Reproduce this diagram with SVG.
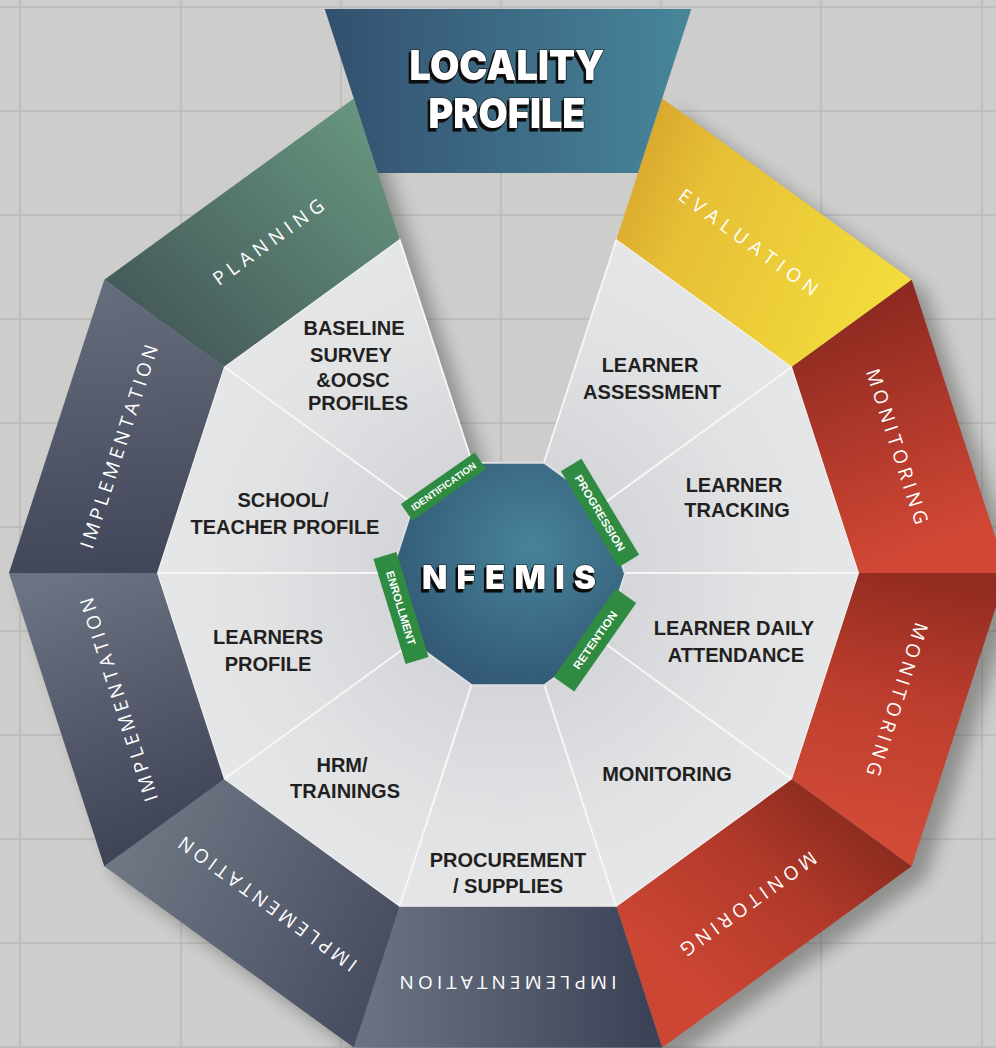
<svg xmlns="http://www.w3.org/2000/svg" width="996" height="1048" viewBox="0 0 996 1048">
<defs>
<style>
.grid line{stroke:#b9b9b8;stroke-width:1.5}
.wedge{stroke:#f7f7f7;stroke-width:1.8;stroke-linejoin:round}
.band{font-family:"Open Sans","Liberation Sans",sans-serif;font-size:19px;fill:#fff;text-anchor:middle}
.wl{font-family:"Liberation Sans",Arial,sans-serif;font-weight:700;font-size:20px;fill:#231f20;text-anchor:middle}
.tag rect{fill:#2f8b42}
.tag text{font-family:"Liberation Sans",Arial,sans-serif;font-weight:700;fill:#fff;text-anchor:middle}
.big{font-family:Inter,"Liberation Sans",sans-serif;font-weight:900;text-anchor:middle;fill:#fff;stroke:#111;stroke-width:1.2;paint-order:stroke;filter:url(#ts)}
</style>
<filter id="ts" x="-10%" y="-20%" width="120%" height="150%"><feDropShadow dx="-2" dy="3" stdDeviation="0" flood-color="#111" flood-opacity="1"/></filter>
<radialGradient id="gw" gradientUnits="userSpaceOnUse" cx="508" cy="573" r="360">
<stop offset="0.3" stop-color="#d4d5d8"/><stop offset="0.7" stop-color="#e1e2e4"/><stop offset="1" stop-color="#e6e7e9"/>
</radialGradient>
<linearGradient id="g-plan" gradientUnits="userSpaceOnUse" x1="160" y1="330" x2="370" y2="120"><stop offset="0" stop-color="#465b5b"/><stop offset="1" stop-color="#66957e"/></linearGradient>
<linearGradient id="g-eval" gradientUnits="userSpaceOnUse" x1="625" y1="170" x2="900" y2="300"><stop offset="0" stop-color="#d9a72d"/><stop offset="0.25" stop-color="#e6bf36"/><stop offset="1" stop-color="#f3dd3c"/></linearGradient>
<linearGradient id="g-mon1" gradientUnits="userSpaceOnUse" x1="845" y1="300" x2="935" y2="540"><stop offset="0" stop-color="#8a281f"/><stop offset="1" stop-color="#d04735"/></linearGradient>
<linearGradient id="g-mon2" gradientUnits="userSpaceOnUse" x1="930" y1="575" x2="880" y2="830"><stop offset="0" stop-color="#922b20"/><stop offset="0.5" stop-color="#bd3e2e"/><stop offset="1" stop-color="#d04a36"/></linearGradient>
<linearGradient id="g-mon3" gradientUnits="userSpaceOnUse" x1="850" y1="800" x2="690" y2="990"><stop offset="0" stop-color="#882a1f"/><stop offset="0.45" stop-color="#b23a2a"/><stop offset="1" stop-color="#cd4634"/></linearGradient>
<linearGradient id="g-impb" gradientUnits="userSpaceOnUse" x1="370" y1="980" x2="650" y2="980"><stop offset="0" stop-color="#6a7281"/><stop offset="1" stop-color="#3d4357"/></linearGradient>
<linearGradient id="g-impbl" gradientUnits="userSpaceOnUse" x1="120" y1="870" x2="390" y2="1000"><stop offset="0" stop-color="#6e7683"/><stop offset="1" stop-color="#454b5e"/></linearGradient>
<linearGradient id="g-impll" gradientUnits="userSpaceOnUse" x1="60" y1="580" x2="170" y2="860"><stop offset="0" stop-color="#6b7281"/><stop offset="1" stop-color="#3b4053"/></linearGradient>
<linearGradient id="g-implu" gradientUnits="userSpaceOnUse" x1="110" y1="290" x2="130" y2="570"><stop offset="0" stop-color="#656c7b"/><stop offset="1" stop-color="#414658"/></linearGradient>
<linearGradient id="g-loc" gradientUnits="userSpaceOnUse" x1="325" y1="0" x2="690" y2="0"><stop offset="0" stop-color="#33506f"/><stop offset="1" stop-color="#47869a"/></linearGradient>
<radialGradient id="g-core" cx="0.6" cy="0.38" r="0.75"><stop offset="0" stop-color="#47839a"/><stop offset="1" stop-color="#2f5270"/></radialGradient>
<filter id="blur" x="-10%" y="-10%" width="130%" height="130%"><feGaussianBlur stdDeviation="9"/></filter>
</defs>
<rect width="996" height="1048" fill="#cdcdcb"/>
<g class="grid">
<line x1="20" y1="0" x2="20" y2="1048"/><line x1="181" y1="0" x2="181" y2="1048"/><line x1="341" y1="0" x2="341" y2="1048"/><line x1="501" y1="0" x2="501" y2="1048"/><line x1="661" y1="0" x2="661" y2="1048"/><line x1="821" y1="0" x2="821" y2="1048"/><line x1="982" y1="0" x2="982" y2="1048"/>
<line x1="0" y1="7" x2="996" y2="7"/><line x1="0" y1="111" x2="996" y2="111"/><line x1="0" y1="215" x2="996" y2="215"/><line x1="0" y1="319" x2="996" y2="319"/><line x1="0" y1="423" x2="996" y2="423"/><line x1="0" y1="527" x2="996" y2="527"/><line x1="0" y1="631" x2="996" y2="631"/><line x1="0" y1="735" x2="996" y2="735"/><line x1="0" y1="839" x2="996" y2="839"/><line x1="0" y1="943" x2="996" y2="943"/><line x1="0" y1="1047" x2="996" y2="1047"/>
</g>
<polygon points="118.3,291.7 367.8,110.4 413.5,251.2 522,585 630.5,251.2 676.2,110.4 925.7,291.7 1021,585 925.7,878.3 676.2,1059.6 367.8,1059.6 118.3,878.3 23,585" fill="#000" opacity="0.3" filter="url(#blur)"/>
<g id="wedges">
<polygon id="w-baseline" class="wedge" fill="url(#gw)" points="508,573 224,366.7 399.5,239.2"/>
<polygon id="w-school" class="wedge" fill="url(#gw)" points="508,573 157,573 224,366.7"/>
<polygon id="w-learners" class="wedge" fill="url(#gw)" points="508,573 224,779.3 157,573"/>
<polygon id="w-hrm" class="wedge" fill="url(#gw)" points="508,573 399.5,906.8 224,779.3"/>
<polygon id="w-procurement" class="wedge" fill="url(#gw)" points="508,573 616.5,906.8 399.5,906.8"/>
<polygon id="w-monitoring" class="wedge" fill="url(#gw)" points="508,573 792,779.3 616.5,906.8"/>
<polygon id="w-attendance" class="wedge" fill="url(#gw)" points="508,573 859,573 792,779.3"/>
<polygon id="w-tracking" class="wedge" fill="url(#gw)" points="508,573 792,366.7 859,573"/>
<polygon id="w-assessment" class="wedge" fill="url(#gw)" points="508,573 616.5,239.2 792,366.7"/>
</g>
<g id="band">
<polygon id="s-planning" fill="url(#g-plan)" points="104.3,279.7 353.8,98.4 399.5,239.2 224,366.7"/>
<polygon id="s-evaluation" fill="url(#g-eval)" points="662.2,98.4 911.7,279.7 792,366.7 616.5,239.2"/>
<polygon id="s-monitoring1" fill="url(#g-mon1)" points="911.7,279.7 1007,573 859,573 792,366.7"/>
<polygon id="s-monitoring2" fill="url(#g-mon2)" points="1007,573 911.7,866.3 792,779.3 859,573"/>
<polygon id="s-monitoring3" fill="url(#g-mon3)" points="911.7,866.3 662.2,1047.6 616.5,906.8 792,779.3"/>
<polygon id="s-impl-bottom" fill="url(#g-impb)" points="662.2,1047.6 353.8,1047.6 399.5,906.8 616.5,906.8"/>
<polygon id="s-impl-bottomleft" fill="url(#g-impbl)" points="353.8,1047.6 104.3,866.3 224,779.3 399.5,906.8"/>
<polygon id="s-impl-leftlower" fill="url(#g-impll)" points="104.3,866.3 9,573 157,573 224,779.3"/>
<polygon id="s-impl-leftupper" fill="url(#g-implu)" points="9,573 104.3,279.7 224,366.7 157,573"/>
</g>
<g id="locality">
<polygon fill="url(#g-loc)" points="324.7,9 691.3,9 638,173 378,173"/>
<text class="big" x="507" y="80" font-size="41" textLength="195" lengthAdjust="spacingAndGlyphs">LOCALITY</text>
<text class="big" x="507" y="128" font-size="41" textLength="157" lengthAdjust="spacingAndGlyphs">PROFILE</text>
</g>
<g id="band-labels">
<text class="band" transform="translate(268.4,242.1) rotate(-36)" dy="0.35em" textLength="132">PLANNING</text>
<text class="band" transform="translate(748.4,242.1) rotate(36)" dy="0.35em" textLength="167">EVALUATION</text>
<text class="band" transform="translate(897,446.6) rotate(72)" dy="0.35em" textLength="162">MONITORING</text>
<text class="band" transform="translate(897,699.4) rotate(108)" dy="0.35em" textLength="160">MONITORING</text>
<text class="band" transform="translate(748.4,903.9) rotate(144)" dy="0.35em" textLength="163">MONITORING</text>
<text class="band" transform="translate(508,983) rotate(180)" dy="0.35em" textLength="217">IMPLEMENTATION</text>
<text class="band" transform="translate(267.6,903.9) rotate(216)" dy="0.35em" textLength="215">IMPLEMENTATION</text>
<text class="band" transform="translate(119,699.4) rotate(252)" dy="0.35em" textLength="213">IMPLEMENTATION</text>
<text class="band" transform="translate(119,446.6) rotate(-72)" dy="0.35em" textLength="213">IMPLEMENTATION</text>
</g>
<g id="wedge-labels">
<text class="wl" x="354" y="335">BASELINE</text>
<text class="wl" x="351" y="362">SURVEY</text>
<text class="wl" x="353" y="387">&amp;OOSC</text>
<text class="wl" x="358" y="410">PROFILES</text>
<text class="wl" x="283" y="507">SCHOOL/</text>
<text class="wl" x="285" y="534">TEACHER PROFILE</text>
<text class="wl" x="268" y="644">LEARNERS</text>
<text class="wl" x="268" y="671">PROFILE</text>
<text class="wl" x="342" y="772">HRM/</text>
<text class="wl" x="345" y="798">TRAININGS</text>
<text class="wl" x="508" y="867">PROCUREMENT</text>
<text class="wl" x="508" y="893">/ SUPPLIES</text>
<text class="wl" x="667" y="781">MONITORING</text>
<text class="wl" x="734" y="635">LEARNER DAILY</text>
<text class="wl" x="736" y="662">ATTENDANCE</text>
<text class="wl" x="734" y="492">LEARNER</text>
<text class="wl" x="737" y="517">TRACKING</text>
<text class="wl" x="650" y="372">LEARNER</text>
<text class="wl" x="652" y="399">ASSESSMENT</text>
</g>
<g id="core">
<polygon fill="url(#g-core)" stroke="#dfe0e2" stroke-width="2" points="625,574 602.7,505.2 544.2,462.7 471.8,462.7 413.3,505.2 391,574 413.3,642.8 471.8,685.3 544.2,685.3 602.7,642.8"/>
<text class="big" x="509" y="589" font-size="33" textLength="174" lengthAdjust="spacing">NFEMIS</text>
</g>
<g id="tags">
<g class="tag" id="t-identification" transform="translate(443.5,486.5) rotate(-35)"><rect x="-45" y="-10" width="90" height="20"/><text y="3.4" font-size="9.5" textLength="77" lengthAdjust="spacingAndGlyphs">IDENTIFICATION</text></g>
<g class="tag" id="t-progression" transform="translate(600,513) rotate(59)"><rect x="-56" y="-12" width="112" height="24"/><text y="4" font-size="11" textLength="87" lengthAdjust="spacingAndGlyphs">PROGRESSION</text></g>
<g class="tag" id="t-enrollment" transform="translate(401,608) rotate(73)"><rect x="-55" y="-12" width="110" height="24"/><text y="4" font-size="11" textLength="77" lengthAdjust="spacingAndGlyphs">ENROLLMENT</text></g>
<g class="tag" id="t-retention" transform="translate(595,640) rotate(-55)"><rect x="-54" y="-12.5" width="108" height="25"/><text y="4" font-size="11" textLength="68" lengthAdjust="spacingAndGlyphs">RETENTION</text></g>
</g>
</svg>
